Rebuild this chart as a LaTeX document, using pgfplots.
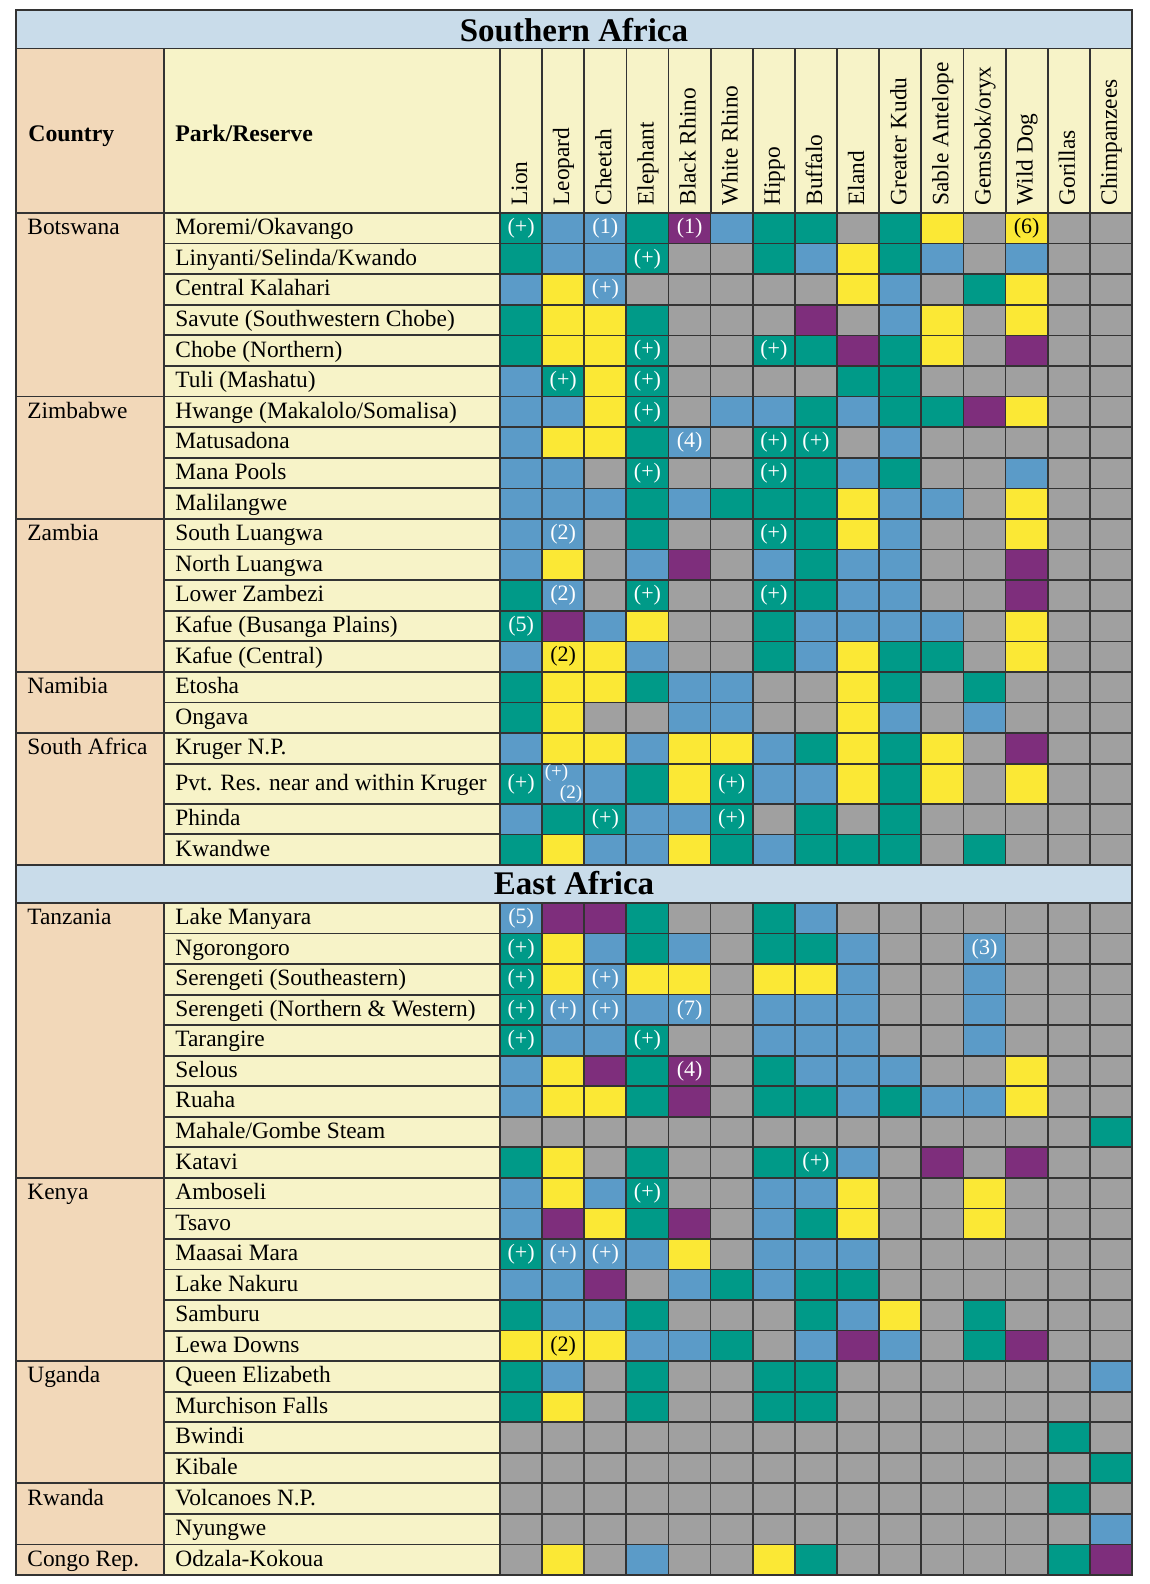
\documentclass[border=0pt]{standalone}
\usepackage{pgfplots}
\pgfplotsset{compat=1.18}
\usepackage{pgfplotstable}
\usepackage{fontspec}
\setmainfont{Liberation Serif}
\definecolor{cteal}{HTML}{009A88}
\definecolor{cblue}{HTML}{5B9BC8}
\definecolor{cyellow}{HTML}{FBE835}
\definecolor{cpurple}{HTML}{7E2E7C}
\definecolor{cgray}{HTML}{A0A0A0}
\definecolor{ccream}{HTML}{F7F3C8}
\definecolor{cpeach}{HTML}{F2D8B9}
\definecolor{clblue}{HTML}{C9DCEA}
\definecolor{cborder}{HTML}{333333}
\newcommand{\bodyf}{\fontsize{11.7pt}{14pt}\selectfont}
\newcommand{\boldf}{\fontsize{11.9pt}{14pt}\selectfont\bfseries}
\newcommand{\titlef}{\fontsize{16.5pt}{19pt}\selectfont\bfseries}
\newcommand{\annf}{\fontsize{11pt}{13pt}\selectfont}
\newcommand{\annsf}{\fontsize{9.5pt}{11pt}\selectfont}
\def\cellh{30.6}
\pgfdeclareplotmark{cell}{%
  \pgfpathrectangle{\pgfpoint{-10.5667pt}{-0.25pt*\cellh}}{\pgfpoint{21.1333pt}{0.5pt*\cellh}}%
  \pgfusepathqfillstroke}
\pgfplotsset{
  cellplot/.style={
    scatter, only marks, mark=cell,
    point meta=explicit symbolic,
    visualization depends on={\thisrow{h} \as \cellh},
    scatter/classes={
      4={mark=cell,fill=cteal,draw=cborder},
      3={mark=cell,fill=cblue,draw=cborder},
      2={mark=cell,fill=cyellow,draw=cborder},
      1={mark=cell,fill=cpurple,draw=cborder},
      0={mark=cell,fill=cgray,draw=cborder}},
    every mark/.append style={line width=0.85pt},
  },
  annplot/.style 2 args={
    only marks, mark=*, mark size=0pt, mark options={draw=none,fill=none},
    point meta=explicit symbolic, nodes near coords, nodes near coords align=center,
    every node near coord/.append style={font=#2, inner sep=0pt, anchor=center, text=#1},
  },
}
% codes: 4 teal, 3 blue, 2 yellow, 1 purple, 0 gray
\pgfplotstableread{
y h c1 c2 c3 c4 c5 c6 c7 c8 c9 c10 c11 c12 c13 c14 c15
228.3 30.6 4 3 3 4 1 3 4 4 0 4 2 0 2 0 0
258.9 30.6 4 3 3 4 0 0 4 3 2 4 3 0 3 0 0
289.5 30.6 3 2 3 0 0 0 0 0 2 3 0 4 2 0 0
320.1 30.6 4 2 2 4 0 0 0 1 0 3 2 0 2 0 0
350.7 30.6 4 2 2 4 0 0 4 4 1 4 2 0 1 0 0
381.3 30.6 3 4 2 4 0 0 0 0 4 4 0 0 0 0 0
411.9 30.6 3 3 2 4 0 3 3 4 3 4 4 1 2 0 0
442.5 30.6 3 2 2 4 3 0 4 4 0 3 0 0 0 0 0
473.1 30.6 3 3 0 4 0 0 4 4 3 4 0 0 3 0 0
503.7 30.6 3 3 3 4 3 4 4 4 2 3 3 0 2 0 0
534.3 30.6 3 3 0 4 0 0 4 4 2 3 0 0 2 0 0
564.9 30.6 3 2 0 3 1 0 3 4 3 3 0 0 1 0 0
595.5 30.6 4 3 0 4 0 0 4 4 3 3 0 0 1 0 0
626.1 30.6 4 1 3 2 0 0 4 3 3 3 3 0 2 0 0
656.7 30.6 3 2 2 3 0 0 4 3 2 4 4 0 2 0 0
687.3 30.6 4 2 2 4 3 3 0 0 2 4 0 4 0 0 0
717.9 30.6 4 2 0 0 3 3 0 0 2 3 0 3 0 0 0
748.5 30.6 3 2 2 3 2 2 3 4 2 4 2 0 1 0 0
783.8 40.0 4 3 3 4 2 4 3 3 2 4 2 0 2 0 0
819.1 30.6 3 4 4 3 3 4 0 4 0 4 0 0 0 0 0
849.7 30.6 4 2 3 3 2 4 3 4 4 4 0 4 0 0 0
}\southern
\pgfplotstableread{
y h c1 c2 c3 c4 c5 c6 c7 c8 c9 c10 c11 c12 c13 c14 c15
918.3 30.545 3 1 1 4 0 0 4 3 0 0 0 0 0 0 0
948.8 30.545 4 2 3 4 3 0 4 4 3 0 0 3 0 0 0
979.4 30.545 4 2 3 2 2 0 2 2 3 0 0 3 0 0 0
1009.9 30.545 4 3 3 3 3 0 3 3 3 0 0 3 0 0 0
1040.5 30.545 4 3 3 4 0 0 3 3 3 0 0 3 0 0 0
1071.0 30.545 3 2 1 4 1 0 4 3 3 3 0 0 2 0 0
1101.5 30.545 3 2 2 4 1 0 4 4 3 4 3 3 2 0 0
1132.1 30.545 0 0 0 0 0 0 0 0 0 0 0 0 0 0 4
1162.6 30.545 4 2 0 4 0 0 4 4 3 0 1 0 1 0 0
1193.2 30.545 3 2 3 4 0 0 3 3 2 0 0 2 0 0 0
1223.7 30.545 3 1 2 4 1 0 3 4 2 0 0 2 0 0 0
1254.3 30.545 4 3 3 3 2 0 3 3 3 0 0 0 0 0 0
1284.8 30.545 3 3 1 0 3 4 3 4 4 0 0 0 0 0 0
1315.3 30.545 4 3 3 4 0 0 0 4 3 2 0 4 0 0 0
1345.9 30.545 2 2 2 3 3 4 0 3 1 3 0 4 1 0 0
1376.4 30.545 4 3 0 4 0 0 4 4 0 0 0 0 0 0 3
1407.0 30.545 4 2 0 4 0 0 4 4 0 0 0 0 0 0 0
1437.5 30.545 0 0 0 0 0 0 0 0 0 0 0 0 0 4 0
1468.1 30.545 0 0 0 0 0 0 0 0 0 0 0 0 0 0 4
1498.6 30.545 0 0 0 0 0 0 0 0 0 0 0 0 0 4 0
1529.1 30.545 0 0 0 0 0 0 0 0 0 0 0 0 0 0 3
1559.7 30.545 0 2 0 3 0 0 2 4 0 0 0 0 0 4 1
}\east
\pgfplotstableread{
x y lab
521.07 228.3 (+)
605.3 228.3 (1)
689.6 228.3 (1)
647.5 258.9 (+)
605.3 289.5 (+)
647.5 350.7 (+)
773.9 350.7 (+)
563.2 381.3 (+)
647.5 381.3 (+)
647.5 411.9 (+)
689.6 442.5 (4)
773.9 442.5 (+)
816.0 442.5 (+)
647.5 473.1 (+)
773.9 473.1 (+)
563.2 534.3 (2)
773.9 534.3 (+)
563.2 595.5 (2)
647.5 595.5 (+)
773.9 595.5 (+)
521.07 626.1 (5)
521.07 783.8 (+)
731.7 783.8 (+)
605.3 819.1 (+)
731.7 819.1 (+)
521.07 918.3 (5)
521.07 948.8 (+)
984.5 948.8 (3)
521.07 979.4 (+)
605.3 979.4 (+)
521.07 1009.9 (+)
563.2 1009.9 (+)
605.3 1009.9 (+)
689.6 1009.9 (7)
521.07 1040.5 (+)
647.5 1040.5 (+)
689.6 1071.0 (4)
816.0 1162.6 (+)
647.5 1193.2 (+)
521.07 1254.3 (+)
563.2 1254.3 (+)
605.3 1254.3 (+)
}\annwhite
\pgfplotstableread{
x y lab
556.5 773.0 (+)
571.0 794.0 (2)
}\annpvt
\pgfplotstableread{
x y lab
1026.7 228.3 (6)
563.2 656.7 (2)
563.2 1345.9 (2)
}\annblack
\begin{document}
\begin{tikzpicture}
\begin{scope}[x=0.5pt,y=-0.5pt,yshift=792pt]
\path (0,0) rectangle (1150,1584);
\fill[clblue] (16,10) rectangle (1132,48.5);
\fill[cpeach] (16,48.5) rectangle (163.7,865);
\fill[ccream] (163.7,48.5) rectangle (1132,213);
\fill[ccream] (163.7,213) rectangle (500,865);
\fill[clblue] (16,865) rectangle (1132,903);
\fill[cpeach] (16,903) rectangle (163.7,1575);
\fill[ccream] (163.7,903) rectangle (500,1575);
\end{scope}
\begin{axis}[at={(0,0)}, anchor=south west, scale only axis, width=575pt, height=792pt,
  xmin=0, xmax=1150, ymin=0, ymax=1584, y dir=reverse, hide axis, clip=false]
\pgfplotsinvokeforeach{1,...,15}{
  \addplot[cellplot] table[x expr={500+42.1333*(#1-0.5)}, y=y, meta=c#1] {\southern};
  \addplot[cellplot] table[x expr={500+42.1333*(#1-0.5)}, y=y, meta=c#1] {\east};
}
\addplot[annplot={white}{\annf}] table[x=x, y=y, meta=lab] {\annwhite};
\addplot[annplot={white}{\annsf}] table[x=x, y=y, meta=lab] {\annpvt};
\addplot[annplot={black}{\annf}] table[x=x, y=y, meta=lab] {\annblack};
\end{axis}
\begin{scope}[x=0.5pt,y=-0.5pt,yshift=792pt]
\tikzset{bline/.style={draw=cborder, line width=0.9pt}}
\draw[bline] (16,48.5) -- (1132,48.5);
\draw[bline] (16,213) -- (1132,213);
\draw[bline] (16,865) -- (1132,865);
\draw[bline] (16,903) -- (1132,903);
\draw[bline] (163.7,48.5) -- (163.7,865);
\draw[bline] (163.7,903) -- (163.7,1575);
\draw[bline] (500,48.5) -- (500,865);
\draw[bline] (500,903) -- (500,1575);
\foreach \k in {1,...,14} \draw[bline] ({500+42.1333*\k},48.5) -- ({500+42.1333*\k},213);
\foreach \yy in {243.6,274.2,304.8,335.4,366.0,396.6,427.2,457.8,488.4,519.0,549.6,580.2,610.8,641.4,672.0,702.6,733.2,763.8,803.8,834.4}
  \draw[bline] (163.7,\yy) -- (500,\yy);
\foreach \k in {1,...,21} \draw[bline] (163.7,{903+30.545*\k}) -- (500,{903+30.545*\k});
\foreach \yy in {396.6,519.0,672.0,733.2,1177.9,1361.2,1483.4,1544.5}
  \draw[bline] (16,\yy) -- (163.7,\yy);
\draw[bline] (16,10) rectangle (1132,1575);
% titles
\node[font=\titlef, anchor=base, inner sep=0pt] at (574,41.5) {Southern Africa};
\node[font=\titlef, anchor=base, inner sep=0pt] at (574,895) {East Africa};
\node[font=\boldf, anchor=base west, inner sep=0pt] at (28,141.7) {Country};
\node[font=\boldf, anchor=base west, inner sep=0pt] at (175,141.7) {Park/Reserve};
% species
\tikzset{sp/.style={font=\bodyf, rotate=90, anchor=base west, inner sep=0pt}}
\node[sp] at (527.1,206) {Lion};
\node[sp] at (569.2,206) {Leopard};
\node[sp] at (611.3,206) {Cheetah};
\node[sp] at (653.5,206) {Elephant};
\node[sp] at (695.6,206) {Black Rhino};
\node[sp] at (737.7,206) {White Rhino};
\node[sp] at (779.9,206) {Hippo};
\node[sp] at (822.0,206) {Buffalo};
\node[sp] at (864.1,206) {Eland};
\node[sp] at (906.3,206) {Greater Kudu};
\node[sp] at (948.4,206) {Sable Antelope};
\node[sp] at (990.5,206) {Gemsbok/oryx};
\node[sp] at (1032.7,206) {Wild Dog};
\node[sp] at (1074.8,206) {Gorillas};
\node[sp] at (1116.9,206) {Chimpanzees};
% countries
\tikzset{txt/.style={font=\bodyf, anchor=base west, inner sep=0pt}}
\node[txt] at (27,234.8) {Botswana};
\node[txt] at (27,418.4) {Zimbabwe};
\node[txt] at (27,540.8) {Zambia};
\node[txt] at (27,693.8) {Namibia};
\node[txt] at (27,755.0) {South Africa};
\node[txt] at (27,924.8) {Tanzania};
\node[txt] at (27,1199.7) {Kenya};
\node[txt] at (27,1382.9) {Uganda};
\node[txt] at (27,1505.1) {Rwanda};
\node[txt] at (27,1566.2) {Congo Rep.};
% parks
\node[txt] at (175,234.8) {Moremi/Okavango};
\node[txt] at (175,265.4) {Linyanti/Selinda/Kwando};
\node[txt] at (175,296.0) {Central Kalahari};
\node[txt] at (175,326.6) {Savute (Southwestern Chobe)};
\node[txt] at (175,357.2) {Chobe (Northern)};
\node[txt] at (175,387.8) {Tuli (Mashatu)};
\node[txt] at (175,418.4) {Hwange (Makalolo/Somalisa)};
\node[txt] at (175,449.0) {Matusadona};
\node[txt] at (175,479.6) {Mana Pools};
\node[txt] at (175,510.2) {Malilangwe};
\node[txt] at (175,540.8) {South Luangwa};
\node[txt] at (175,571.4) {North Luangwa};
\node[txt] at (175,602.0) {Lower Zambezi};
\node[txt] at (175,632.6) {Kafue (Busanga Plains)};
\node[txt] at (175,663.2) {Kafue (Central)};
\node[txt] at (175,693.8) {Etosha};
\node[txt] at (175,724.4) {Ongava};
\node[txt] at (175,755.0) {Kruger N.P.};
\node[txt] at (175,790.3) {Pvt. Res. near and within Kruger};
\node[txt] at (175,825.6) {Phinda};
\node[txt] at (175,856.2) {Kwandwe};
\node[txt] at (175,924.8) {Lake Manyara};
\node[txt] at (175,955.3) {Ngorongoro};
\node[txt] at (175,985.9) {Serengeti (Southeastern)};
\node[txt] at (175,1016.4) {Serengeti (Northern \& Western)};
\node[txt] at (175,1047.0) {Tarangire};
\node[txt] at (175,1077.5) {Selous};
\node[txt] at (175,1108.0) {Ruaha};
\node[txt] at (175,1138.6) {Mahale/Gombe Steam};
\node[txt] at (175,1169.1) {Katavi};
\node[txt] at (175,1199.7) {Amboseli};
\node[txt] at (175,1230.2) {Tsavo};
\node[txt] at (175,1260.8) {Maasai Mara};
\node[txt] at (175,1291.3) {Lake Nakuru};
\node[txt] at (175,1321.8) {Samburu};
\node[txt] at (175,1352.4) {Lewa Downs};
\node[txt] at (175,1382.9) {Queen Elizabeth};
\node[txt] at (175,1413.5) {Murchison Falls};
\node[txt] at (175,1444.0) {Bwindi};
\node[txt] at (175,1474.6) {Kibale};
\node[txt] at (175,1505.1) {Volcanoes N.P.};
\node[txt] at (175,1535.6) {Nyungwe};
\node[txt] at (175,1566.2) {Odzala-Kokoua};
\end{scope}
\end{tikzpicture}
\end{document}
